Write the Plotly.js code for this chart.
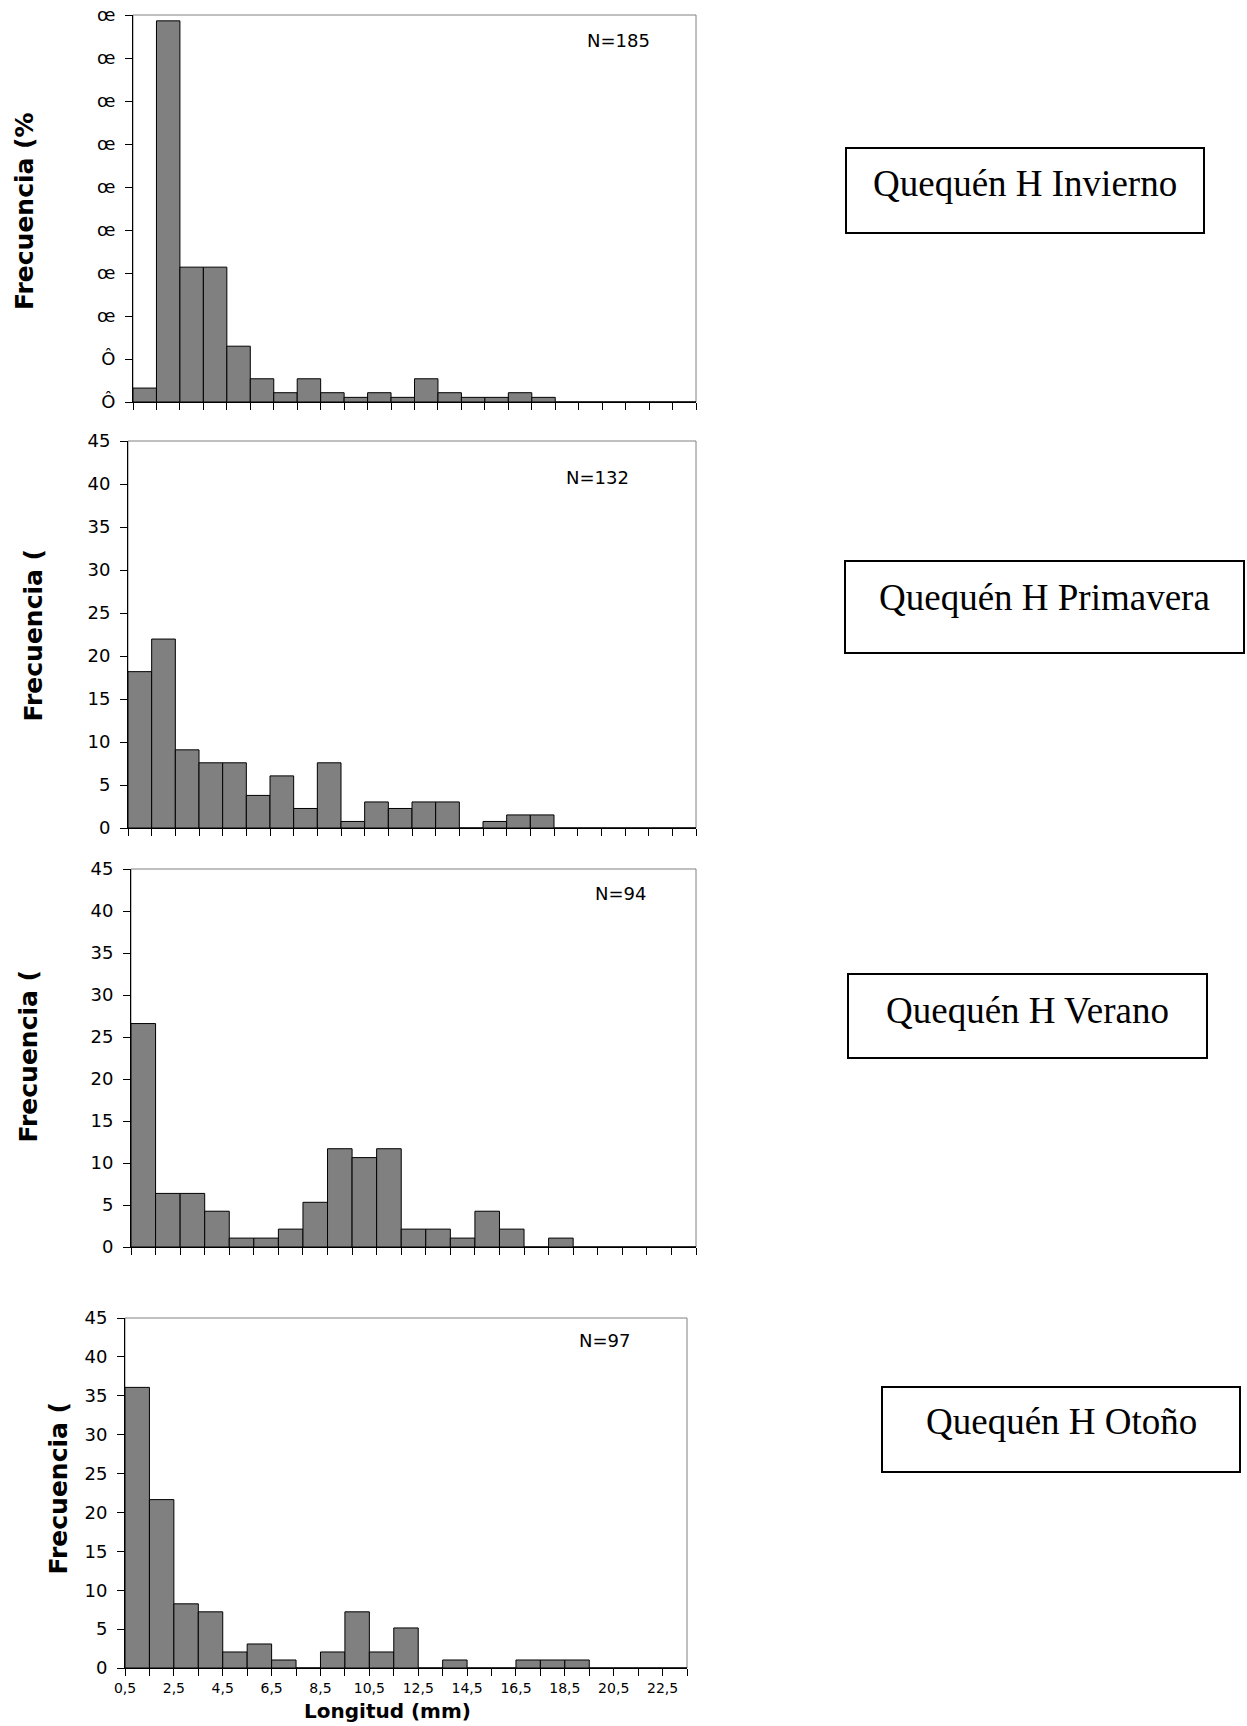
<!DOCTYPE html>
<html>
<head>
<meta charset="utf-8">
<script src="https://cdn.plot.ly/plotly-3.0.1.min.js"></script>
<style>
  html, body { margin: 0; padding: 0; background: #ffffff; }
  #chart { width: 1247px; height: 1726px; }
</style>
</head>
<body>
<div id="chart"></div>
<script>
// Length classes (mm): class midpoints; class limits fall on x.5
const classMid = [1, 2, 3, 4, 5, 6, 7, 8, 9, 10, 11, 12, 13, 14, 15, 16, 17, 18, 19, 20, 21, 22, 23, 24];
const xLabelPos = [0.5, 2.5, 4.5, 6.5, 8.5, 10.5, 12.5, 14.5, 16.5, 18.5, 20.5, 22.5];
const xLabelText = ['0,5', '2,5', '4,5', '6,5', '8,5', '10,5', '12,5', '14,5', '16,5', '18,5', '20,5', '22,5'];

// Frequency (%) per length class, one series per season
const invierno  = [1.62, 44.32, 15.68, 15.68, 6.49, 2.70, 1.08, 2.70, 1.08, 0.54, 1.08, 0.54, 2.70, 1.08, 0.54, 0.54, 1.08, 0.54, 0, 0, 0, 0, 0, 0];
const primavera = [18.18, 21.97, 9.09, 7.58, 7.58, 3.79, 6.06, 2.27, 7.58, 0.76, 3.03, 2.27, 3.03, 3.03, 0, 0.76, 1.52, 1.52, 0, 0, 0, 0, 0, 0];
const verano    = [26.60, 6.38, 6.38, 4.26, 1.06, 1.06, 2.13, 5.32, 11.70, 10.64, 11.70, 2.13, 2.13, 1.06, 4.26, 2.13, 0, 1.06, 0, 0, 0, 0, 0];
const otono     = [36.08, 21.65, 8.25, 7.22, 2.06, 3.09, 1.03, 0, 2.06, 7.22, 2.06, 5.15, 0, 1.03, 0, 0, 1.03, 1.03, 1.03, 0, 0, 0, 0];

const sampleSize = ['N=185', 'N=132', 'N=94', 'N=97'];
const seasonName = ['Quequén H Invierno', 'Quequén H Primavera', 'Quequén H Verano', 'Quequén H Otoño'];
const yTitleText = ['Frecuencia (%', 'Frecuencia (', 'Frecuencia (', 'Frecuencia ('];
const yTickVals = [0, 5, 10, 15, 20, 25, 30, 35, 40, 45];
const yTickTextInvierno = ['Ô', 'Ô', 'œ', 'œ', 'œ', 'œ', 'œ', 'œ', 'œ', 'œ'];
const xTitle = 'Longitud (mm)';

const series = [invierno, primavera, verano, otono];

// Page geometry in pixels
const W = 1247, H = 1726;
const px = v => v / W;
const py = v => 1 - v / H;

const panels = [
  { x0: 133, x1: 696, y0: 15,   y1: 402,  titleX: 24, titleBottom: 312,  nX: 618, nY: 41,   box: [846, 148, 1204, 233],  textY: 183 },
  { x0: 128, x1: 696, y0: 441,  y1: 828,  titleX: 33, titleBottom: 724,  nX: 597, nY: 477,  box: [845, 561, 1244, 653],  textY: 597 },
  { x0: 131, x1: 696, y0: 869,  y1: 1247, titleX: 28, titleBottom: 1145, nX: 620, nY: 893,  box: [848, 974, 1207, 1058], textY: 1010 },
  { x0: 125, x1: 687, y0: 1318, y1: 1668, titleX: 58, titleBottom: 1577, nX: 604, nY: 1340, box: [882, 1387, 1240, 1472], textY: 1421 }
];

const tickFont = { family: 'DejaVu Sans', size: 18, color: '#000000' };
const traces = [];
const layout = {
  width: W, height: H,
  margin: { l: 0, r: 0, t: 0, b: 0 },
  paper_bgcolor: '#ffffff',
  plot_bgcolor: '#ffffff',
  showlegend: false,
  bargap: 0,
  shapes: [],
  annotations: []
};

panels.forEach((p, i) => {
  const vals = series[i];
  const nb = vals.length;
  const sfx = i === 0 ? '' : String(i + 1);
  const xa = 'x' + sfx, ya = 'y' + sfx;

  traces.push({
    type: 'bar',
    x: classMid.slice(0, nb),
    y: vals,
    width: 1,
    xaxis: xa, yaxis: ya,
    marker: { color: '#808080', line: { color: '#000000', width: 1 } },
    hoverinfo: 'x+y'
  });

  // class limits as tick marks; labels only on the bottom panel
  const limits = [];
  const limitText = [];
  for (let k = 0; k <= nb; k++) {
    const v = 0.5 + k;
    limits.push(v);
    const j = xLabelPos.indexOf(v);
    limitText.push(i === 3 && j >= 0 ? xLabelText[j] : '');
  }

  layout['xaxis' + sfx] = {
    domain: [px(p.x0), px(p.x1)],
    anchor: ya,
    range: [0.5, nb + 0.5],
    tickmode: 'array', tickvals: limits, ticktext: limitText,
    ticks: 'outside', ticklen: 7, tickwidth: 1, tickcolor: '#000000',
    showline: true, linecolor: '#000000', linewidth: 1,
    showgrid: false, zeroline: false,
    tickfont: { family: 'DejaVu Sans', size: 14, color: '#000000' },
    ticklabelstandoff: 0,
    fixedrange: true
  };
  layout['yaxis' + sfx] = {
    domain: [py(p.y1), py(p.y0)],
    anchor: xa,
    range: [0, 45],
    tickmode: 'array', tickvals: yTickVals,
    ticktext: i === 0 ? yTickTextInvierno : yTickVals.map(String),
    ticks: 'outside', ticklen: 7, tickwidth: 1, tickcolor: '#000000',
    showline: true, linecolor: '#000000', linewidth: 1,
    showgrid: false, zeroline: false,
    tickfont: tickFont,
    ticklabelstandoff: 6,
    fixedrange: true
  };

  // plot-area frame (grey top and right edges)
  layout.shapes.push({
    type: 'rect', xref: xa + ' domain', yref: ya + ' domain',
    x0: 0, x1: 1, y0: 0, y1: 1,
    line: { color: '#808080', width: 1 }, layer: 'below'
  });

  // season label box
  layout.shapes.push({
    type: 'rect', xref: 'paper', yref: 'paper',
    x0: px(p.box[0]), x1: px(p.box[2]), y0: py(p.box[3]), y1: py(p.box[1]),
    line: { color: '#000000', width: 2 }, fillcolor: 'rgba(0,0,0,0)'
  });
  layout.annotations.push({
    xref: 'paper', yref: 'paper',
    x: px((p.box[0] + p.box[2]) / 2), y: py(p.textY),
    xanchor: 'center', yanchor: 'middle',
    text: seasonName[i], showarrow: false,
    font: { family: 'Liberation Serif', size: 37, color: '#000000' }
  });

  // sample size
  layout.annotations.push({
    xref: 'paper', yref: 'paper',
    x: px(p.nX), y: py(p.nY),
    xanchor: 'center', yanchor: 'middle',
    text: sampleSize[i], showarrow: false,
    font: { family: 'DejaVu Sans', size: 18, color: '#000000' }
  });

  // y axis title
  layout.annotations.push({
    xref: 'paper', yref: 'paper',
    x: px(p.titleX), y: py(p.titleBottom),
    xanchor: 'center', yanchor: 'bottom',
    textangle: -90,
    text: yTitleText[i], showarrow: false,
    font: { family: 'DejaVu Sans', size: 25, weight: 'bold', color: '#000000' }
  });
});

// x axis title under the bottom panel
layout.annotations.push({
  xref: 'paper', yref: 'paper',
  x: px(387), y: py(1711),
  xanchor: 'center', yanchor: 'middle',
  text: '<b>' + xTitle + '</b>', showarrow: false,
  font: { family: 'DejaVu Sans', size: 20, color: '#000000' }
});

Plotly.newPlot('chart', traces, layout, { displayModeBar: false, staticPlot: true });
</script>
</body>
</html>
